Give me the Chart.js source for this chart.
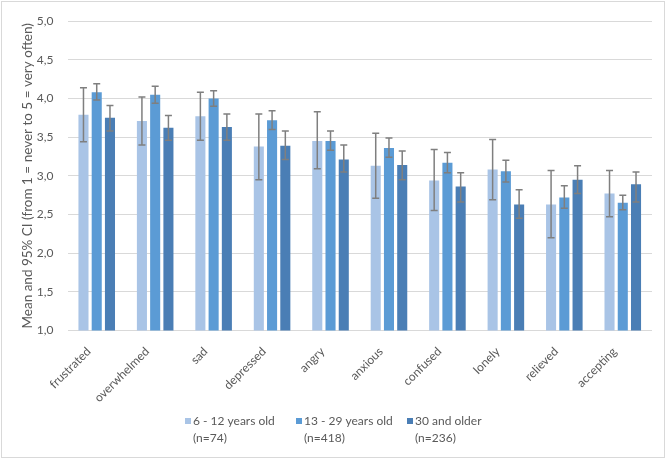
<!DOCTYPE html>
<html>
<head>
<meta charset="utf-8">
<script src="https://cdn.jsdelivr.net/npm/chart.js"></script>
<style>
  html, body { margin: 0; padding: 0; background: #fff; }
  #wrap { width: 666px; height: 459px; position: relative; }
</style>
</head>
<body>
<div id="wrap"><canvas id="emotionsChart"></canvas></div>
<script>
// Hodnoty (průměr a 95% CI)
const categories = ['frustrated', 'overwhelmed', 'sad', 'depressed', 'angry', 'anxious', 'confused', 'lonely', 'relieved', 'accepting'];

const groupLabels = ['6 - 12 years old', '13 - 29 years old', '30 and older'];
const groupCounts = ['(n=74)', '(n=418)', '(n=236)'];

const mean6to12  = [3.79, 3.71, 3.77, 3.38, 3.45, 3.13, 2.94, 3.08, 2.63, 2.77];
const low6to12   = [3.44, 3.40, 3.46, 2.95, 3.09, 2.71, 2.55, 2.69, 2.20, 2.47];
const high6to12  = [4.14, 4.02, 4.08, 3.80, 3.83, 3.55, 3.34, 3.47, 3.07, 3.07];

const mean13to29 = [4.08, 4.05, 4.00, 3.72, 3.45, 3.36, 3.17, 3.06, 2.72, 2.65];
const low13to29  = [3.98, 3.94, 3.90, 3.60, 3.33, 3.24, 3.04, 2.92, 2.58, 2.56];
const high13to29 = [4.19, 4.16, 4.10, 3.84, 3.58, 3.49, 3.30, 3.20, 2.87, 2.75];

const mean30plus = [3.75, 3.62, 3.63, 3.39, 3.21, 3.14, 2.86, 2.63, 2.95, 2.89];
const low30plus  = [3.58, 3.46, 3.46, 3.21, 3.05, 2.95, 2.66, 2.45, 2.77, 2.66];
const high30plus = [3.91, 3.78, 3.80, 3.58, 3.40, 3.32, 3.04, 2.82, 3.13, 3.05];

const yTicks = [1, 1.5, 2, 2.5, 3, 3.5, 4, 4.5, 5];

const colors = ['#a9c4e6', '#5b9bd5', '#4a7eb5'];
const textColor = '#595959';
const fontFamily = 'Lato, "Open Sans", sans-serif';

// Chybové úsečky (95% CI) přes škálu grafu
const errorBars = {
    id: 'errorBars',
    afterDatasetsDraw(chart) {
        const ctx = chart.ctx;
        const yScale = chart.scales.y;
        ctx.save();
        ctx.strokeStyle = '#7f7f7f';
        ctx.lineWidth = 1.5;
        chart.data.datasets.forEach((ds, di) => {
            const meta = chart.getDatasetMeta(di);
            meta.data.forEach((bar, i) => {
                const yHi = yScale.getPixelForValue(ds.ciHigh[i]);
                const yLo = yScale.getPixelForValue(ds.ciLow[i]);
                ctx.beginPath();
                ctx.moveTo(bar.x, yHi);
                ctx.lineTo(bar.x, yLo);
                ctx.moveTo(bar.x - 3.5, yHi);
                ctx.lineTo(bar.x + 3.5, yHi);
                ctx.moveTo(bar.x - 3.5, yLo);
                ctx.lineTo(bar.x + 3.5, yLo);
                ctx.stroke();
            });
        });
        ctx.restore();
    }
};

// Legenda se dvěma řádky + rámeček kolem grafu
const customLegend = {
    id: 'customLegend',
    afterDraw(chart) {
        const ctx = chart.ctx;
        const w = chart.width;
        const h = chart.height;
        ctx.save();
        ctx.strokeStyle = '#d9d9d9';
        ctx.lineWidth = 1;
        ctx.strokeRect(1.5, 1.5, w - 3, h - 3);

        const step = 111;
        const startX = w / 2 - 148;
        ctx.font = '12px ' + fontFamily;
        ctx.textBaseline = 'middle';
        chart.data.datasets.forEach((ds, i) => {
            const x = startX + i * step;
            ctx.fillStyle = ds.backgroundColor;
            ctx.fillRect(x, 418, 6, 6);
            ctx.fillStyle = textColor;
            ctx.fillText(groupLabels[i], x + 8, 421.5);
            ctx.fillText(groupCounts[i], x + 8, 438);
        });
        ctx.restore();
    }
};

const ctx = document.getElementById('emotionsChart').getContext('2d');

new Chart(ctx, {
    type: 'bar',
    data: {
        labels: categories,
        datasets: [
            { label: groupLabels[0], data: mean6to12, ciLow: low6to12, ciHigh: high6to12, backgroundColor: colors[0] },
            { label: groupLabels[1], data: mean13to29, ciLow: low13to29, ciHigh: high13to29, backgroundColor: colors[1] },
            { label: groupLabels[2], data: mean30plus, ciLow: low30plus, ciHigh: high30plus, backgroundColor: colors[2] }
        ]
    },
    options: {
        responsive: true,
        maintainAspectRatio: false,
        animation: false,
        datasets: {
            bar: { categoryPercentage: 0.68, barPercentage: 0.76, borderWidth: 0 }
        },
        layout: {
            padding: { left: 0, top: 15, right: 14, bottom: 53.6 }
        },
        scales: {
            x: {
                grid: { display: false },
                border: { display: false },
                ticks: {
                    color: textColor,
                    font: { family: fontFamily, size: 12 },
                    autoSkip: false,
                    minRotation: 45,
                    maxRotation: 45,
                    padding: 6,
                    labelOffset: -8
                },
                afterFit(scale) { scale.height = 75; }
            },
            y: {
                min: 1,
                max: 5,
                grid: { color: '#d9d9d9', lineWidth: 1, drawTicks: false },
                border: { display: false },
                afterBuildTicks(scale) {
                    scale.ticks = yTicks.map(v => ({ value: v }));
                },
                ticks: {
                    color: textColor,
                    font: { family: fontFamily, size: 12 },
                    padding: 14,
                    callback: v => v.toFixed(1).replace('.', ',')
                },
                title: {
                    display: true,
                    text: 'Mean and 95% CI (from 1 = never to 5 = very often)',
                    color: textColor,
                    font: { family: fontFamily, size: 13.5 },
                    padding: { top: 20, bottom: 4 }
                },
                afterFit(scale) { scale.width = 67.5; }
            }
        },
        plugins: {
            legend: { display: false },
            tooltip: { enabled: false }
        }
    },
    plugins: [errorBars, customLegend]
});
</script>
</body>
</html>
